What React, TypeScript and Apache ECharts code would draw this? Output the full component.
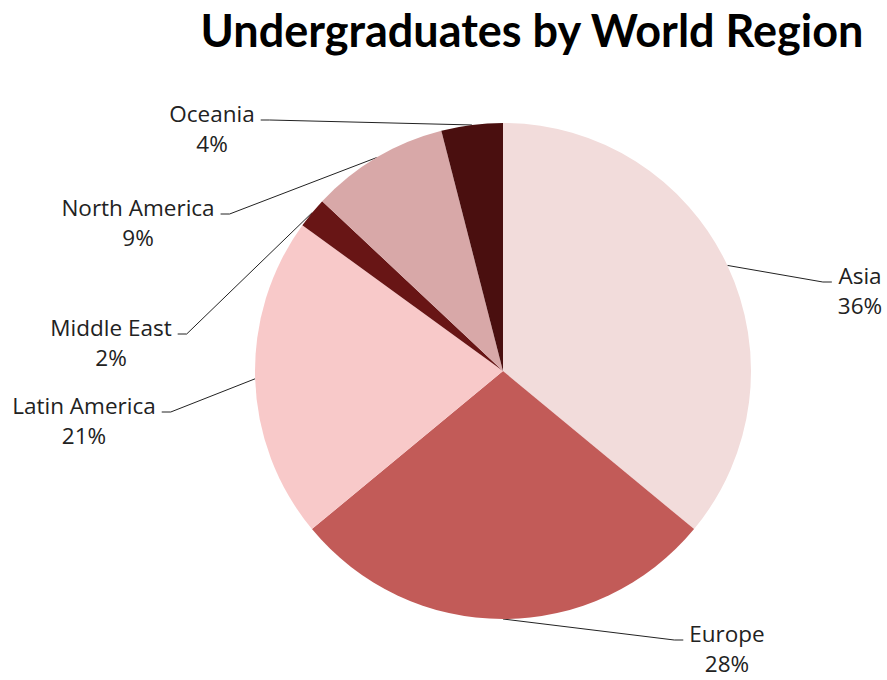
import React, { useEffect, useRef } from "react";
import * as echarts from "echarts";

const titleText = "Undergraduates by World Region";
const regions = ["Asia", "Europe", "Latin America", "Middle East", "North America", "Oceania"];
const shares = [36, 28, 21, 2, 9, 4];
const sliceColors = ["#F2DCDB", "#C25B58", "#F8C9C9", "#681515", "#D8A8A8", "#4A0F0F"];
// label block centres (layout, px)
const labelX = [860, 727, 84, 111, 138, 212];
const labelY = [290, 648, 420, 342, 222, 128];

const CX = 503;
const CY = 371;

export default function App() {
  const ref = useRef<HTMLDivElement>(null);
  useEffect(() => {
    if (!ref.current) return;
    const chart = echarts.init(ref.current, undefined, { renderer: "svg" });
    chart.setOption({
      animation: false,
      backgroundColor: "#ffffff",
      graphic: [
        {
          type: "text",
          x: 532,
          y: 7,
          style: {
            text: titleText,
            align: "center",
            verticalAlign: "top",
            font: "bold 45px Lato",
            fill: "#000000",
          },
        },
      ],
      series: [
        {
          type: "pie",
          center: [CX, CY],
          radius: 248,
          startAngle: 90,
          clockwise: true,
          silent: true,
          data: regions.map((name, i) => ({
            name,
            value: shares[i],
            itemStyle: { color: sliceColors[i] },
          })),
          label: {
            show: true,
            position: "outside",
            formatter: "{b}\n{c}%",
            fontFamily: "Open Sans",
            fontSize: 22.5,
            lineHeight: 30,
            color: "#222222",
            align: "center",
          },
          labelLine: {
            show: true,
            length: 20,
            length2: 10,
            smooth: false,
            lineStyle: { color: "#222222", width: 1 },
          },
          labelLayout: (params: any) => {
            const i = params.dataIndex;
            const x = labelX[i];
            const y = labelY[i];
            const w = params.labelRect.width;
            const right = x > CX;
            const endX = right ? x - w / 2 - 6 : x + w / 2 + 6;
            const endY = y - 8;
            const elbowX = right ? endX - 9 : endX + 9;
            const p0 = params.labelLinePoints ? params.labelLinePoints[0] : [endX, endY];
            return {
              x,
              y,
              align: "center",
              verticalAlign: "middle",
              labelLinePoints: [p0, [elbowX, endY], [endX, endY]],
            };
          },
        },
      ],
    });
    return () => chart.dispose();
  }, []);
  return (
    <div
      ref={ref}
      style={{ position: "absolute", left: 0, top: 0, width: 887, height: 680 }}
    />
  );
}
